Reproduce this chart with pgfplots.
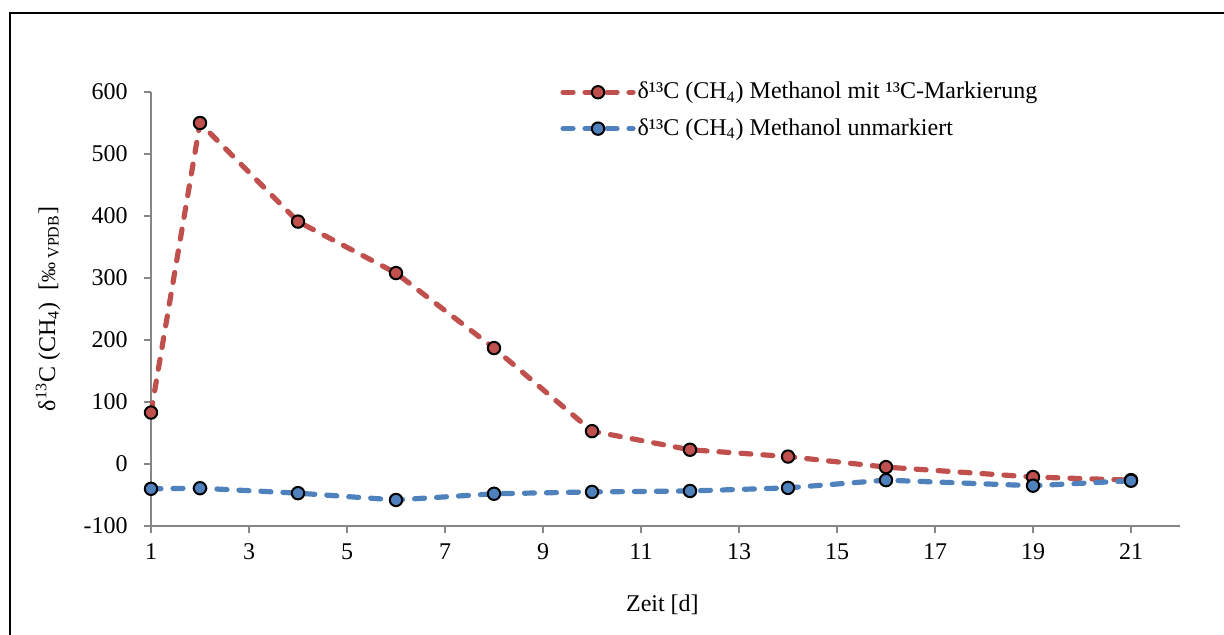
\documentclass[border=0pt,12pt]{standalone}
\usepackage{fontspec}
\setmainfont{Liberation Serif}
\usepackage{pgfplots}
\pgfplotsset{compat=1.18}
\definecolor{redS}{HTML}{C0504D}
\definecolor{blueS}{HTML}{4F81BD}
\definecolor{axgray}{HTML}{868686}
\begin{document}
\begin{tikzpicture}
\useasboundingbox (-75.5pt,-54pt) rectangle (536.5pt,263pt);
\begin{axis}[
  at={(0,0)}, anchor=south west,
  scale only axis, width=514.5pt, height=217pt,
  xmin=1, xmax=22, ymin=-100, ymax=600,
  xtick={1,3,...,21}, ytick={-100,0,...,600},
  axis lines=left,
  axis line style={axgray, line width=0.9pt, -},
  tick style={axgray, line width=0.9pt},
  tick align=outside, major tick length=3.5pt,
  /pgf/number format/assume math mode=true,
  tick label style={font=\fontsize{12}{14}\selectfont},
  xticklabel style={yshift=-1pt},
  yticklabel style={xshift=-4pt},
  xlabel={Zeit [d]},
  ylabel={δ\textsuperscript{13}C (CH\textsubscript{4})\ \ [{\footnotesize ‰}\,\textsubscript{VPDB}]},
  every axis x label/.style={at={(axis description cs:0.497,-0.182)}, anchor=center, font=\fontsize{12}{14}\selectfont},
  every axis y label/.style={at={(axis description cs:-0.1001,0.5)}, anchor=center, rotate=90, font=\fontsize{12}{14}\selectfont},
  legend style={draw=none, fill=none, at={(axis description cs:0.3975,1.033)}, anchor=north west,
    font=\fontsize{12}{14}\selectfont, row sep=4pt, inner sep=0pt,
    /tikz/every even column/.append style={column sep=0pt},
    /tikz/every odd column/.append style={column sep=-1pt}},
  legend cell align=left,
  legend image code/.code={
    \draw[mark repeat=2,mark phase=2,#1] plot coordinates {(0pt,0pt) (17.5pt,0pt) (35pt,0pt)};
  },
  clip=false,
]
\addplot[redS, line width=2.6pt, dash pattern=on 5pt off 6pt, line cap=round,
  mark=*, mark size=3.1pt, mark options={solid, fill=redS, draw=black, line width=1pt}]
  coordinates {(1,83) (2,550) (4,391) (6,308) (8,187) (10,53) (12,23) (14,12) (16,-5) (19,-21) (21,-26)};
\addlegendentry{δ¹³C (CH\textsubscript{4}) Methanol mit ¹³C-Markierung}
\addplot[blueS, line width=2.6pt, dash pattern=on 5pt off 6pt, line cap=round,
  mark=*, mark size=3.1pt, mark options={solid, fill=blueS, draw=black, line width=1pt}]
  coordinates {(1,-40) (2,-39) (4,-47) (6,-58) (8,-48) (10,-45) (12,-43.5) (14,-38.5) (16,-26) (19,-35) (21,-27)};
\addlegendentry{δ¹³C (CH\textsubscript{4}) Methanol unmarkiert}
\end{axis}
\draw[black, line width=1pt] (-70.5pt,-80pt) -- (-70.5pt,256.5pt) -- (560pt,256.5pt);
\end{tikzpicture}
\end{document}
